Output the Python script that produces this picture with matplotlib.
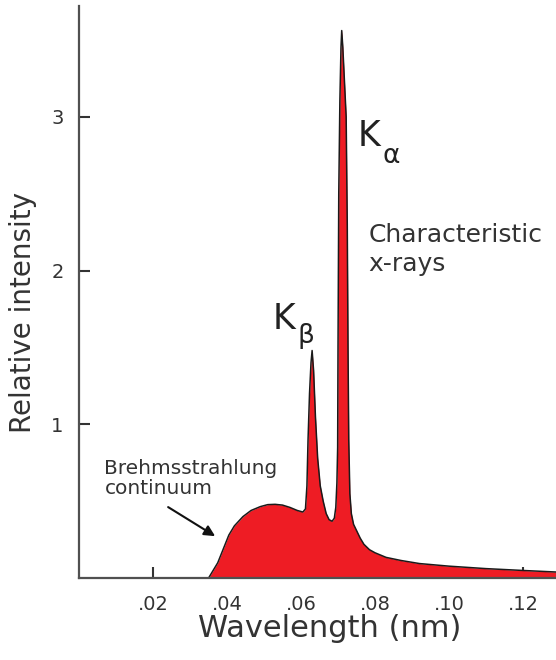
import matplotlib
matplotlib.use("Agg")
import matplotlib.pyplot as plt

# spectrum (wavelength in nm, relative intensity)
wavelength = [0.0350, 0.0375, 0.0390, 0.0405, 0.0420, 0.0443, 0.0465, 0.0490,
              0.0510, 0.0530, 0.0550, 0.0570, 0.0590, 0.0605, 0.0612, 0.0616,
              0.0619, 0.0623, 0.0627, 0.0630, 0.0634, 0.0639, 0.0645, 0.0652,
              0.0660, 0.0668, 0.0676, 0.0684, 0.0690, 0.0694, 0.0697, 0.0699,
              0.0700, 0.0702, 0.0705, 0.0708, 0.0710, 0.0713, 0.0717, 0.0722,
              0.0725, 0.0727, 0.0729, 0.0732, 0.0736, 0.0742, 0.0750, 0.0760,
              0.0770, 0.0785, 0.0800, 0.0830, 0.0870, 0.0920, 0.1000, 0.1100,
              0.1200, 0.1289]
intensity = [0.00, 0.10, 0.19, 0.28, 0.34, 0.40, 0.44, 0.465,
             0.478, 0.48, 0.475, 0.46, 0.44, 0.43, 0.45, 0.60,
             0.90, 1.20, 1.40, 1.48, 1.35, 1.05, 0.78, 0.60,
             0.50, 0.42, 0.38, 0.37, 0.39, 0.46, 0.62, 0.85,
             1.50, 2.50, 3.10, 3.45, 3.56, 3.45, 3.25, 3.00,
             2.30, 1.50, 0.90, 0.55, 0.42, 0.35, 0.31, 0.26,
             0.22, 0.185, 0.165, 0.135, 0.115, 0.095, 0.078, 0.062,
             0.050, 0.040]

xticks = [0.02, 0.04, 0.06, 0.08, 0.10, 0.12]
xticklabels = ['.02', '.04', '.06', '.08', '.10', '.12']
yticks = [1, 2, 3]

fig = plt.figure(figsize=(5.56, 6.60), dpi=100)
ax = fig.add_axes([0.142, 0.124, 0.858, 0.867])

ax.fill_between(wavelength, intensity, 0, color='#ee1c24', lw=0, zorder=2)
ax.plot(wavelength, intensity, color='#1a1a1a', lw=1.1, zorder=3)

ax.set_xlim(0, 0.1289)
ax.set_ylim(0, 3.72)

for s in ['top', 'right']:
    ax.spines[s].set_visible(False)
for s in ['left', 'bottom']:
    ax.spines[s].set_color('#505050')
    ax.spines[s].set_linewidth(1.6)
    ax.spines[s].set_zorder(4)

ax.set_xticks(xticks)
ax.set_xticklabels(xticklabels)
ax.set_yticks(yticks)
ax.tick_params(direction='in', length=8, width=1.5, color='#333333',
               labelsize=14, labelcolor='#333333')
ax.tick_params(axis='x', pad=12)
ax.tick_params(axis='y', pad=11)

ax.set_xlabel('Wavelength (nm)', fontsize=22, color='#333333', va='top')
ax.xaxis.set_label_coords(0.526, -0.062)
ax.set_ylabel('Relative intensity', fontsize=20, color='#333333', va='center')
ax.yaxis.set_label_coords(-0.117, 0.465)

# peak labels
ax.text(0.0754, 2.81, 'K', fontsize=25, color='#222222', ha='left', va='baseline')
ax.text(0.0820, 2.70, 'α', fontsize=19, color='#222222', ha='left', va='baseline')
ax.text(0.0524, 1.62, 'K', fontsize=25, color='#222222', ha='left', va='baseline')
ax.text(0.0590, 1.53, 'β', fontsize=19, color='#222222', ha='left', va='baseline')

ax.text(0.0782, 2.00, 'Characteristic\nx-rays', fontsize=18, color='#333333',
        ha='left', va='baseline', linespacing=1.25)

ax.text(0.0069, 0.547, 'Brehmsstrahlung\ncontinuum', fontsize=14.5, color='#333333',
        ha='left', va='baseline', linespacing=1.1)
ax.annotate('', xy=(0.0368, 0.273), xytext=(0.0241, 0.462),
            arrowprops=dict(arrowstyle='-|>', color='#111111', lw=1.5,
                            mutation_scale=16, shrinkA=0, shrinkB=0))

fig.savefig('out.png', dpi=100)
